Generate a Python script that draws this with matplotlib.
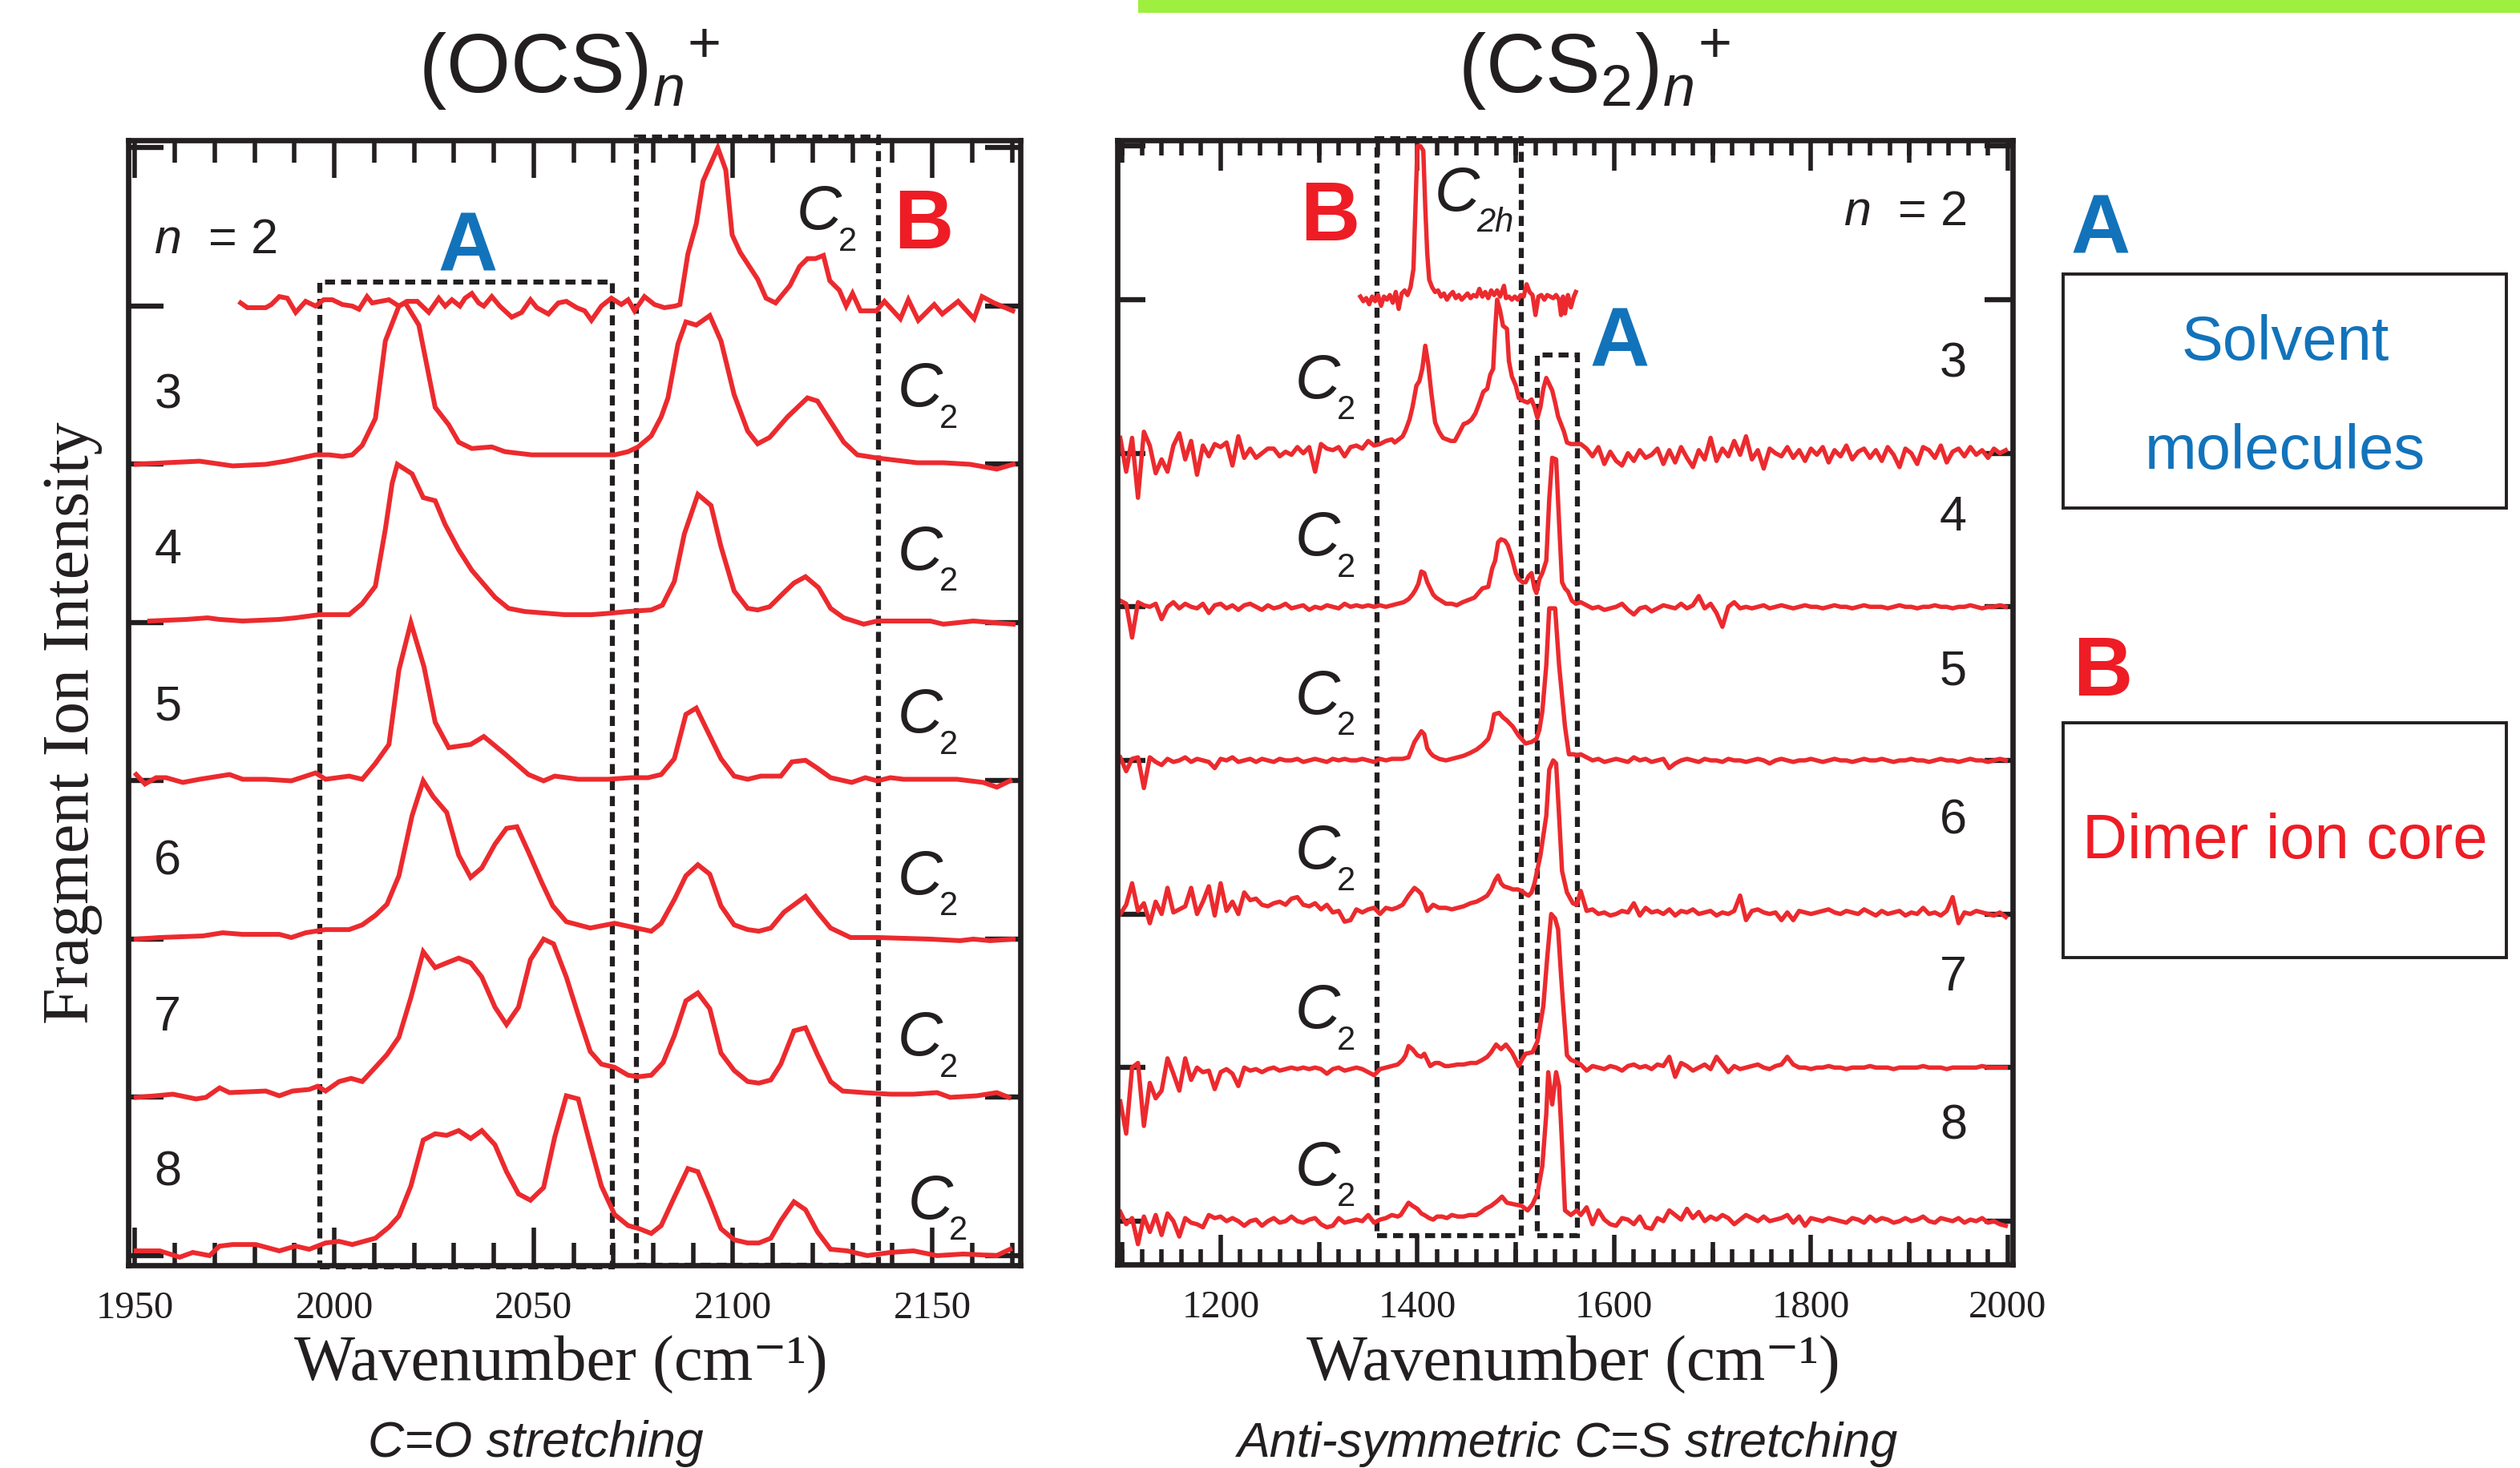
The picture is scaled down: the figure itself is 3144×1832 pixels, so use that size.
import numpy as np
import matplotlib
matplotlib.use("Agg")
import matplotlib.pyplot as plt
from matplotlib.ticker import MultipleLocator, FixedLocator, NullLocator
from matplotlib.patches import Rectangle

plt.rcParams['font.family'] = ['Liberation Sans', 'DejaVu Sans']
plt.rcParams['mathtext.fontset'] = 'custom'
plt.rcParams['mathtext.rm'] = 'Liberation Sans'
plt.rcParams['mathtext.it'] = 'Liberation Sans:italic'
plt.rcParams['mathtext.bf'] = 'Liberation Sans:bold'

# ---------------- data: (OCS)n+  (wavenumber, intensity above own baseline) ----------------
ocs_n2 = [(1976.5,0.02),(1978.2,-0.01),(1982.8,-0.01),(1984.2,0.01),(1986.2,0.06),(1988.2,0.05),(1990.3,-0.04),(1992.8,0.03),(1995.3,0.0),(1997.3,0.04),(1999.5,0.04),(2002.0,0.01),(2004.5,0.0),(2006.2,-0.02),(2008.2,0.06),(2009.5,0.02),(2013.7,0.04),(2016.2,0.0),(2018.2,0.03),(2020.8,0.03),(2023.7,-0.04),(2026.2,0.05),(2027.8,0.0),(2029.5,0.04),(2031.5,0.0),(2032.8,0.05),(2034.5,0.08),(2036.2,0.02),(2037.5,0.0),(2039.5,0.06),(2041.5,0.0),(2044.5,-0.07),(2047.0,-0.04),(2049.2,0.04),(2050.8,-0.01),(2053.7,-0.05),(2056.2,0.02),(2058.2,0.03),(2060.8,-0.01),(2062.8,-0.03),(2064.5,-0.09),(2067.0,0.0),(2069.5,0.05),(2072.0,0.01),(2073.7,0.04),(2075.3,-0.03),(2077.8,0.06),(2080.3,0.01),(2082.8,-0.01),(2085.5,0.0),(2086.7,0.01),(2088.7,0.33),(2090.8,0.52),(2092.5,0.79),(2096.2,1.0),(2098.2,0.86),(2099.8,0.45),(2101.8,0.34),(2106.2,0.17),(2108.3,0.05),(2110.7,0.02),(2114.3,0.13),(2116.7,0.25),(2118.7,0.3),(2120.7,0.3),(2122.7,0.32),(2124.3,0.16),(2126.7,0.1),(2128.4,0.0),(2130.0,0.08),(2132.0,-0.03),(2136.0,-0.03),(2138.0,0.03),(2142.0,-0.08),(2144.0,0.04),(2146.5,-0.09),(2150.5,0.01),(2152.5,-0.05),(2156.5,0.03),(2160.5,-0.08),(2162.5,0.06),(2165.5,0.02),(2170.2,-0.03)]
ocs_n3 = [(1950.3,0.0),(1957.8,0.01),(1966.2,0.02),(1974.5,-0.01),(1982.8,0.0),(1987.8,0.02),(1995.3,0.06),(1998.7,0.06),(2002.0,0.05),(2004.5,0.06),(2007.0,0.12),(2010.3,0.29),(2012.8,0.78),(2016.2,1.0),(2017.8,1.02),(2021.2,0.88),(2025.3,0.36),(2028.7,0.25),(2031.2,0.14),(2034.5,0.1),(2039.5,0.11),(2042.8,0.08),(2049.5,0.06),(2059.5,0.06),(2066.2,0.06),(2070.3,0.06),(2073.7,0.08),(2076.2,0.11),(2079.5,0.18),(2082.0,0.3),(2083.7,0.42),(2086.2,0.76),(2088.2,0.9),(2090.8,0.88),(2094.2,0.94),(2097.0,0.78),(2100.3,0.44),(2103.7,0.21),(2106.2,0.13),(2109.2,0.17),(2113.7,0.3),(2118.7,0.42),(2121.2,0.4),(2124.5,0.27),(2127.8,0.14),(2131.2,0.06),(2136.2,0.04),(2146.2,0.01),(2152.8,0.01),(2159.5,0.0),(2166.2,-0.03),(2170.3,0.0)]
ocs_n4 = [(1953.7,0.01),(1962.8,0.02),(1968.2,0.03),(1971.2,0.02),(1977.0,0.01),(1986.2,0.02),(1990.3,0.03),(1996.2,0.05),(2003.7,0.05),(2007.0,0.12),(2010.3,0.23),(2012.8,0.59),(2014.5,0.88),(2015.8,1.0),(2019.5,0.94),(2022.3,0.79),(2025.3,0.77),(2027.8,0.62),(2031.2,0.46),(2034.5,0.33),(2040.3,0.16),(2043.7,0.09),(2047.8,0.07),(2057.8,0.05),(2064.5,0.05),(2069.5,0.06),(2073.7,0.07),(2079.5,0.08),(2082.3,0.11),(2085.3,0.26),(2087.8,0.56),(2091.2,0.81),(2094.5,0.74),(2097.0,0.48),(2100.3,0.2),(2103.7,0.09),(2106.2,0.08),(2109.2,0.1),(2112.8,0.19),(2115.3,0.25),(2118.2,0.29),(2121.5,0.22),(2124.5,0.09),(2127.8,0.03),(2132.8,-0.01),(2136.2,0.01),(2149.5,0.01),(2152.8,-0.01),(2160.3,0.01),(2170.3,-0.01)]
ocs_n5 = [(1950.3,0.04),(1952.5,-0.02),(1955.3,0.02),(1957.8,0.02),(1962.0,-0.01),(1966.2,0.01),(1973.7,0.04),(1977.0,0.01),(1982.8,0.01),(1989.2,0.0),(1995.3,0.05),(1997.8,0.01),(2003.7,0.03),(2007.0,0.01),(2010.3,0.11),(2013.7,0.23),(2016.2,0.7),(2019.2,1.0),(2022.5,0.72),(2025.3,0.37),(2028.7,0.21),(2034.2,0.23),(2037.5,0.28),(2042.8,0.17),(2048.7,0.04),(2052.5,0.0),(2055.3,0.03),(2061.2,0.01),(2068.7,0.01),(2074.5,0.02),(2078.7,0.02),(2082.0,0.04),(2085.3,0.14),(2088.2,0.42),(2090.8,0.46),(2093.7,0.31),(2097.0,0.14),(2100.3,0.03),(2103.7,0.01),(2107.0,0.03),(2112.0,0.03),(2114.8,0.12),(2118.2,0.13),(2121.2,0.08),(2124.5,0.02),(2129.8,-0.01),(2133.2,0.02),(2136.2,0.0),(2139.5,0.02),(2142.8,0.01),(2156.2,0.01),(2162.8,-0.01),(2166.2,-0.04),(2169.5,0.0)]
ocs_n6 = [(1950.3,0.0),(1956.2,0.01),(1967.0,0.02),(1972.0,0.04),(1977.0,0.03),(1986.2,0.03),(1989.2,0.01),(1992.8,0.04),(1997.8,0.06),(2003.7,0.06),(2007.0,0.09),(2010.3,0.15),(2013.2,0.22),(2016.2,0.4),(2019.5,0.78),(2022.3,1.0),(2024.8,0.9),(2028.2,0.8),(2031.2,0.53),(2034.2,0.39),(2037.0,0.45),(2040.3,0.6),(2043.2,0.7),(2045.8,0.71),(2048.7,0.55),(2052.0,0.36),(2054.8,0.21),(2058.2,0.11),(2064.2,0.07),(2070.3,0.1),(2075.8,0.07),(2079.5,0.05),(2082.0,0.1),(2085.3,0.25),(2088.2,0.4),(2091.2,0.47),(2094.2,0.41),(2097.0,0.21),(2100.3,0.09),(2103.7,0.06),(2106.5,0.05),(2109.5,0.07),(2112.8,0.17),(2118.2,0.27),(2121.2,0.17),(2124.5,0.07),(2129.5,0.01),(2136.2,0.01),(2149.5,0.0),(2157.0,-0.01),(2160.3,0.0),(2164.5,-0.01),(2170.3,0.0)]
ocs_n7 = [(1950.3,0.0),(1955.3,0.01),(1959.5,0.02),(1965.3,-0.01),(1967.8,0.0),(1971.2,0.06),(1973.7,0.03),(1982.8,0.04),(1986.2,0.01),(1989.5,0.04),(1993.7,0.05),(1995.8,0.07),(1997.8,0.04),(2001.2,0.1),(2004.2,0.12),(2007.0,0.1),(2010.3,0.19),(2013.2,0.27),(2016.2,0.38),(2019.2,0.63),(2022.3,0.92),(2025.3,0.82),(2028.2,0.85),(2031.2,0.88),(2034.2,0.85),(2037.0,0.76),(2040.3,0.57),(2043.2,0.46),(2046.2,0.57),(2049.2,0.87),(2052.5,1.0),(2055.0,0.97),(2058.2,0.76),(2061.2,0.52),(2064.2,0.29),(2067.0,0.21),(2070.3,0.19),(2073.7,0.14),(2076.2,0.13),(2079.5,0.14),(2082.5,0.22),(2085.3,0.39),(2088.2,0.61),(2091.2,0.66),(2094.2,0.56),(2097.0,0.28),(2100.3,0.17),(2103.7,0.1),(2106.5,0.09),(2109.5,0.11),(2112.0,0.21),(2115.3,0.42),(2118.2,0.44),(2121.2,0.27),(2124.5,0.1),(2127.5,0.04),(2132.8,0.03),(2139.5,0.02),(2145.3,0.02),(2151.2,0.03),(2154.5,0.0),(2161.2,0.01),(2166.2,0.03),(2169.2,0.0)]
ocs_n8 = [(1950.3,0.03),(1956.2,0.03),(1961.2,-0.01),(1964.5,0.02),(1968.7,0.0),(1971.2,0.06),(1974.5,0.07),(1980.3,0.07),(1986.2,0.03),(1990.3,0.06),(1993.7,0.04),(1997.8,0.08),(2001.2,0.09),(2004.5,0.07),(2010.3,0.11),(2013.7,0.18),(2016.2,0.25),(2019.2,0.44),(2022.3,0.73),(2025.3,0.77),(2028.2,0.76),(2031.2,0.79),(2034.2,0.74),(2037.0,0.79),(2040.3,0.7),(2043.2,0.53),(2046.2,0.39),(2049.2,0.35),(2052.5,0.43),(2055.3,0.75),(2058.2,1.01),(2061.2,0.99),(2064.2,0.7),(2067.0,0.44),(2070.3,0.26),(2073.7,0.19),(2076.5,0.17),(2079.5,0.14),(2082.0,0.19),(2085.3,0.37),(2088.7,0.55),(2091.2,0.53),(2094.2,0.35),(2097.0,0.17),(2100.3,0.1),(2103.7,0.08),(2106.5,0.08),(2109.5,0.11),(2112.0,0.22),(2115.3,0.34),(2118.2,0.29),(2121.2,0.15),(2124.5,0.04),(2128.7,0.03),(2133.7,0.0),(2139.5,0.02),(2145.3,0.03),(2151.2,0.0),(2157.8,0.01),(2166.2,0.0),(2167.8,0.02),(2169.5,0.04)]

# ---------------- data: (CS2)n+ ----------------
# baseline noise sampled every CS2_STEP cm-1 (values in hundredths), peak regions as explicit points
CS2_LEFT_START = 1098
CS2_RIGHT_START = 1566
CS2_STEP = 6

cs2_n2 = [(1342,0.02),(1345,-0.01),(1348,0.01),(1351,-0.03),(1354,0.02),(1357,-0.01),(1360,0.03),(1363,-0.04),(1366,0.02),(1369,0.0),(1372,0.03),(1375,-0.02),(1378,0.05),(1381,-0.06),(1384,0.04),(1387,0.06),(1390,0.03),(1393,0.08),(1396,0.2),(1398,0.6),(1400,1.0),(1403,1.0),(1406,0.97),(1408,0.6),(1410,0.3),(1412,0.13),(1415,0.08),(1418,0.05),(1421,0.06),(1424,0.02),(1427,0.04),(1430,0.0),(1433,0.03),(1436,0.05),(1439,0.01),(1442,0.03),(1445,0.0),(1448,0.02),(1451,0.04),(1454,0.01),(1457,0.03),(1460,0.02),(1463,0.07),(1466,0.02),(1469,0.05),(1472,0.01),(1475,0.06),(1478,0.03),(1481,0.06),(1484,0.02),(1488,0.09),(1490,0.01),(1493,0.02),(1496,0.0),(1499,0.02),(1502,0.0),(1505,0.03),(1508,0.02),(1511,0.1),(1514,0.05),(1517,0.03),(1520,-0.1),(1523,0.02),(1526,0.03),(1529,0.0),(1532,0.03),(1535,0.02),(1538,0.01),(1541,0.03),(1544,0.0),(1546,-0.1),(1548,0.02),(1550,-0.09),(1553,0.03),(1556,-0.05),(1559,0.02),(1561,0.05)]

cs2_n3_left = [10,-12,10,-29,14,5,-13,-4,-12,5, 13,-4,8,-14,5,-2,6,4,7,-8, 11,-3,3,-3,0,3,3,-2,1,-1, 4,0,4,-12,6,3,2,4,-2,4, 5,3,8,5,6,8,9]
cs2_n3_peak = [(1377,0.07),(1381,0.09),(1385,0.11),(1388,0.15),(1392,0.22),(1395,0.3),(1399,0.44),(1402,0.47),(1405,0.55),(1408,0.7),(1411,0.58),(1414,0.4),(1418,0.2),(1422,0.14),(1426,0.1),(1430,0.09),(1434,0.08),(1438,0.08),(1443,0.14),(1447,0.19),(1451,0.2),(1455,0.22),(1459,0.26),(1462,0.31),(1467,0.4),(1471,0.42),(1474,0.51),(1477,0.55),(1479,0.8),(1481,1.0),(1484,0.93),(1487,0.83),(1491,0.81),(1493,0.6),(1496,0.5),(1500,0.44),(1503,0.36),(1508,0.34),(1512,0.33),(1516,0.35),(1519,0.3),(1522,0.23),(1525,0.3),(1528,0.42),(1531,0.49),(1534,0.45),(1537,0.41),(1540,0.33),(1543,0.24),(1546,0.19),(1549,0.14),(1552,0.07),(1556,0.06),(1560,0.06)]
cs2_n3_right = [6,3,-2,4,-7,1,-5,-8,0,-5, 2,-3,-1,3,-7,2,-6,4,-3,-9, 2,-4,10,-5,3,-2,8,-1,11,-4, 2,-10,3,0,-2,4,-3,2,-5,3, -1,4,-6,2,-2,5,-4,1,3,-3, 2,-5,4,-1,-9,3,0,-7,4,2, -3,5,-6,1,3,-2,4,-1,2,-3, 3,0,2]

cs2_n4_left = [4,2,-20,3,1,0,2,-8,0,3, -1,2,0,-1,2,-4,1,2,-1,1, -2,1,2,0,-2,1,-1,0,2,-1, 0,1,-2,0,-1,1,0,-1,2,0, 1,0,1,0,1,0,1]
cs2_n4_peak = [(1380,0.02),(1386,0.03),(1391,0.05),(1395,0.08),(1398,0.11),(1401,0.15),(1404,0.23),(1407,0.22),(1410,0.16),(1413,0.12),(1416,0.08),(1419,0.06),(1424,0.04),(1429,0.02),(1435,0.02),(1440,0.01),(1446,0.03),(1450,0.04),(1454,0.05),(1458,0.06),(1462,0.09),(1466,0.12),(1472,0.13),(1476,0.25),(1479,0.3),(1482,0.42),(1485,0.44),(1489,0.43),(1492,0.4),(1496,0.32),(1500,0.22),(1503,0.18),(1507,0.16),(1510,0.16),(1513,0.2),(1516,0.22),(1519,0.12),(1521,0.09),(1524,0.18),(1527,0.22),(1531,0.3),(1534,0.7),(1537,0.97),(1541,0.96),(1544,0.55),(1547,0.16),(1550,0.12),(1553,0.1),(1557,0.04),(1561,0.02)]
cs2_n4_right = [3,1,-1,0,-2,-1,0,2,-2,-5, -1,0,-3,-1,1,0,-1,2,-1,1, 7,-1,2,-4,-13,0,3,-1,0,-1, 0,1,-1,0,1,0,-1,0,1,0, 0,-1,0,1,0,0,-1,0,1,0, 0,0,-1,0,1,0,0,-1,0,0, 1,0,0,-1,0,0,1,0,-1,0, 0,1,0]

cs2_n5_left = [2,-7,1,2,-18,2,-1,-3,1,-1, 0,2,-1,1,0,-1,-5,1,0,2, -1,0,1,-1,1,0,-1,1,0,0, 1,-1,0,1,0,-1,1,0,1,0, 0,1,0,-1,1,0,1]
cs2_n5_peak = [(1385,0.01),(1391,0.02),(1394,0.07),(1397,0.12),(1401,0.16),(1404,0.19),(1407,0.17),(1410,0.08),(1413,0.05),(1416,0.03),(1422,0.01),(1429,0.0),(1435,0.01),(1441,0.02),(1447,0.03),(1454,0.05),(1460,0.07),(1466,0.1),(1472,0.14),(1475,0.2),(1478,0.3),(1483,0.31),(1487,0.28),(1491,0.26),(1497,0.22),(1503,0.16),(1510,0.11),(1516,0.12),(1521,0.14),(1524,0.2),(1527,0.32),(1531,0.62),(1534,0.99),(1540,0.99),(1544,0.62),(1550,0.22),(1554,0.04),(1559,0.04),(1562,0.03)]
cs2_n5_right = [4,2,0,1,-1,0,1,0,-1,2, 0,1,-1,0,1,-5,-2,0,1,0, -1,1,0,0,-1,1,0,0,-1,0, 1,0,-2,0,1,0,-1,0,0,1, 0,-1,0,1,0,0,-1,0,1,0, 0,1,0,-1,0,0,1,0,0,-1, 0,1,0,0,-1,0,1,0,0,-1, 0,1,0]

cs2_n6_left = [0,6,20,2,7,-6,8,0,17,1, 3,5,17,0,8,18,-1,20,2,8, 0,14,9,10,6,5,7,8,6,10, 11,6,5,7,3,6,1,2,-5,-4, 3,1,3,4,0,4,3]
cs2_n6_peak = [(1379,0.04),(1385,0.06),(1391,0.12),(1397,0.17),(1401,0.15),(1404,0.13),(1410,0.02),(1416,0.06),(1422,0.04),(1429,0.04),(1435,0.03),(1441,0.04),(1447,0.05),(1454,0.07),(1460,0.08),(1466,0.1),(1471,0.12),(1475,0.16),(1479,0.22),(1482,0.25),(1485,0.2),(1488,0.18),(1493,0.17),(1497,0.16),(1502,0.16),(1506,0.15),(1510,0.13),(1513,0.12),(1516,0.14),(1519,0.2),(1525,0.38),(1531,0.64),(1534,0.94),(1538,1.0),(1541,0.98),(1544,0.64),(1547,0.28),(1552,0.14),(1558,0.07),(1562,0.06)]
cs2_n6_right = [15,2,3,0,1,-1,0,2,1,7, -1,4,1,2,0,3,-1,2,1,3, 0,1,2,-1,1,0,2,12,-4,2, 3,1,0,1,-4,1,-4,2,1,0, 1,2,3,1,0,2,1,0,3,1, -1,2,0,1,2,-1,1,0,4,0, 1,-1,2,11,-6,1,0,2,1,0, -1,1,-2]

cs2_n7_left = [-22,-43,0,3,-38,-10,-20,-15,6,-4, -15,6,-8,0,-3,-2,-14,-3,-1,-4, -12,0,-2,-1,-3,-1,0,-2,-1,0, -1,0,-1,0,-1,-4,-1,0,-2,-1, 0,-1,-3,-5,-1,0,1]
cs2_n7_peak = [(1380,0.02),(1385,0.05),(1388,0.08),(1391,0.14),(1395,0.12),(1400,0.08),(1404,0.07),(1407,0.09),(1413,0.01),(1418,0.03),(1422,0.03),(1428,0.01),(1432,0.01),(1441,0.02),(1447,0.02),(1454,0.03),(1460,0.03),(1466,0.05),(1471,0.07),(1475,0.1),(1480,0.15),(1485,0.12),(1490,0.15),(1496,0.1),(1500,0.05),(1503,0.01),(1507,0.06),(1510,0.09),(1517,0.1),(1522,0.17),(1528,0.4),(1532,0.72),(1536,1.0),(1540,0.97),(1543,0.9),(1546,0.6),(1548,0.42),(1552,0.08),(1556,0.05),(1560,0.04)]
cs2_n7_right = [2,-2,1,0,-1,1,0,-2,1,2, 0,1,-1,2,1,7,-6,3,1,-2, 0,2,-1,7,2,-3,1,-1,0,1, 2,0,-1,1,2,7,2,0,0,-1, 0,0,1,0,0,-1,0,0,0,1, 0,0,0,-1,0,0,0,0,1,0, 0,0,-1,0,0,0,0,0,1,0, 0,0,0]

cs2_n8_left = [6,-2,2,-15,3,-7,4,-9,5,0, -10,2,-1,-2,-4,4,2,3,0,2, 0,-3,0,1,-3,0,2,-1,0,3, 0,-1,1,2,-2,-4,-3,2,-1,0, 1,0,4,-1,1,2,4]
cs2_n8_peak = [(1380,0.03),(1383,0.04),(1386,0.07),(1391,0.12),(1395,0.1),(1400,0.08),(1404,0.05),(1407,0.04),(1412,0.02),(1416,0.01),(1420,0.03),(1425,0.03),(1430,0.02),(1435,0.04),(1441,0.03),(1447,0.03),(1453,0.04),(1460,0.04),(1465,0.06),(1469,0.08),(1475,0.1),(1481,0.13),(1486,0.16),(1491,0.12),(1498,0.11),(1506,0.1),(1512,0.07),(1517,0.11),(1522,0.18),(1527,0.36),(1531,0.7),(1533,0.97),(1537,0.76),(1541,0.97),(1544,0.88),(1547,0.5),(1550,0.07),(1556,0.04),(1562,0.07)]
cs2_n8_right = [4,9,-2,7,1,-2,-3,2,1,-2, 3,-4,-5,2,0,7,4,1,8,2, 6,0,3,1,4,2,-2,1,4,2, 0,3,0,1,2,4,-1,3,-3,2, 1,0,2,1,0,-1,2,1,-1,3, 0,2,1,-1,0,2,0,1,3,0, -1,2,1,0,2,-1,1,0,2,-1, 0,-2,-3]

cluster_sizes = [2, 3, 4, 5, 6, 7, 8]
n_labels = ['$\\mathit{n}$  = 2', '3', '4', '5', '6', '7', '8']

# annotation boxes: (wn_low, wn_high, y_low, y_high)
ocs_box_A = (1996.3, 2069.8, -0.07, 6.15)
ocs_box_B = (2075.8, 2136.5, -0.06, 7.07)
cs2_box_B = (1358.8, 1505.5, -0.094, 7.05)
cs2_box_A = (1521.7, 1562.3, -0.094, 5.64)

# ---------------- style ----------------
RED = '#EC2A2E'
TXT_RED = '#EE1C25'
BLUE = '#1273BB'
BLACK = '#231F20'
SERIF = ['Liberation Serif', 'DejaVu Serif']
SANS = ['Liberation Sans', 'DejaVu Sans']

W, H = 3144, 1833
fig = plt.figure(figsize=(W / 100, H / 100), dpi=100)
fig.patch.set_facecolor('white')


def fx(px):
    return px / W


def fy(py):
    return 1 - py / H


ax1 = fig.add_axes([fx(160), fy(1580), fx(1273 - 160), (1580 - 176) / H])
ax2 = fig.add_axes([fx(1394), fy(1579), fx(2511 - 1394), (1579 - 176) / H])


def style_axes(ax, xlim, ylim, major, minor, maj_len, min_len, ylen):
    ax.set_xlim(*xlim)
    ax.set_ylim(*ylim)
    for s in ax.spines.values():
        s.set_linewidth(4.8)
        s.set_color(BLACK)
    ax.xaxis.set_major_locator(MultipleLocator(major))
    ax.xaxis.set_minor_locator(MultipleLocator(minor))
    ax.tick_params(axis='x', which='both', direction='in', top=True, bottom=True,
                   width=4.0, color=BLACK, labelsize=35, pad=22,
                   labelcolor=BLACK, labelfontfamily='Liberation Serif')
    ax.tick_params(axis='x', which='major', length=maj_len)
    ax.tick_params(axis='x', which='minor', length=min_len)
    ax.yaxis.set_major_locator(FixedLocator(range(8)))
    ax.yaxis.set_minor_locator(NullLocator())
    ax.tick_params(axis='y', which='major', direction='in', left=True, right=True,
                   length=ylen, width=4.6, color=BLACK, labelleft=False)


style_axes(ax1, (1948.3, 2172.1), (-0.061, 7.048), 50, 10, 34, 20, 32)
style_axes(ax2, (1095, 2005), (-0.282, 7.038), 200, 20, 27, 14, 25)

# medium (every 100 cm-1) ticks on the CS2 panel
for loc in ('bottom', 'top'):
    sec = ax2.secondary_xaxis(loc)
    sec.xaxis.set_major_locator(FixedLocator([1100, 1300, 1500, 1700, 1900]))
    sec.xaxis.set_minor_locator(NullLocator())
    sec.tick_params(axis='x', direction='in', length=20, width=4.0, color=BLACK,
                    labelbottom=False, labeltop=False)
    for s in sec.spines.values():
        s.set_visible(False)

# ---------------- traces ----------------
ocs_traces = [ocs_n2, ocs_n3, ocs_n4, ocs_n5, ocs_n6, ocs_n7, ocs_n8]
for n, tr in zip(cluster_sizes, ocs_traces):
    x, y = np.array(tr).T
    ax1.plot(x, y + (8 - n), color=RED, lw=4.3, solid_joinstyle='miter', zorder=2)


def cs2_trace(left_vals, peak, right_vals):
    xl = CS2_LEFT_START + CS2_STEP * np.arange(len(left_vals))
    yl = np.array(left_vals) / 100.0
    xp, yp = np.array(peak).T
    xr = CS2_RIGHT_START + CS2_STEP * np.arange(len(right_vals))
    yr = np.array(right_vals) / 100.0
    kl = xl < xp[0]
    kr = xr > xp[-1]
    return (np.concatenate([xl[kl], xp, xr[kr]]),
            np.concatenate([yl[kl], yp, yr[kr]]))


cs2_sets = [
    (cs2_n3_left, cs2_n3_peak, cs2_n3_right),
    (cs2_n4_left, cs2_n4_peak, cs2_n4_right),
    (cs2_n5_left, cs2_n5_peak, cs2_n5_right),
    (cs2_n6_left, cs2_n6_peak, cs2_n6_right),
    (cs2_n7_left, cs2_n7_peak, cs2_n7_right),
    (cs2_n8_left, cs2_n8_peak, cs2_n8_right),
]
x2, y2 = np.array(cs2_n2).T
ax2.plot(x2, y2 + 6, color=RED, lw=3.9, zorder=2)
for n, (l, p, r) in zip(cluster_sizes[1:], cs2_sets):
    x, y = cs2_trace(l, p, r)
    ax2.plot(x, y + (8 - n), color=RED, lw=3.9, zorder=2)

# ---------------- dashed boxes ----------------
for ax, box in ((ax1, ocs_box_A), (ax1, ocs_box_B), (ax2, cs2_box_B), (ax2, cs2_box_A)):
    x0, x1, y0, y1 = box
    ax.add_patch(Rectangle((x0, y0), x1 - x0, y1 - y0, fill=False, ec=BLACK,
                           lw=4.5, ls=(0, (2.0, 1.2)), clip_on=False, zorder=1.8))


# ---------------- labels inside panels ----------------
def c_label(ax, x, y, sub='2'):
    ax.text(x, y, 'C', fontsize=56, style='italic', color=BLACK, family=SANS,
            ha='left', va='baseline')
    ax.annotate(sub, xy=(x, y), xytext=(37.5, -19), textcoords='offset points',
                fontsize=30, color=BLACK, family=SANS, ha='left', va='baseline',
                style='italic' if sub != '2' else 'normal')


ocs_n_offsets = [0.34, 0.36, 0.38, 0.39, 0.41, 0.43, 0.45]
for n, lab, off in zip(cluster_sizes, n_labels, ocs_n_offsets):
    ax1.text(1954.8, (8 - n) + off, lab, fontsize=44, color=BLACK, family=SANS,
             ha='left', va='baseline')

cs2_n_offsets = [0.49, 0.50, 0.50, 0.50, 0.53, 0.51, 0.54]
for n, lab, off in zip(cluster_sizes, n_labels, cs2_n_offsets):
    ax2.text(1958.5, (8 - n) + off, lab, fontsize=44, color=BLACK, family=SANS,
             ha='right', va='baseline')

ocs_c_offsets = [0.37, 0.34, 0.31, 0.29, 0.27, 0.24]
ocs_c_x = [2141.2, 2141.2, 2141.2, 2141.2, 2141.2, 2143.8]
c_label(ax1, 2115.9, 6.49)
for n, xx, off in zip(cluster_sizes[1:], ocs_c_x, ocs_c_offsets):
    c_label(ax1, xx, (8 - n) + off)

cs2_c_offsets = [0.365, 0.34, 0.31, 0.30, 0.26, 0.24]
for n, off in zip(cluster_sizes[1:], cs2_c_offsets):
    c_label(ax2, 1275.8, (8 - n) + off)
c_label(ax2, 1417.4, 6.585, sub='2h')

BIG = dict(fontsize=74, fontweight='bold', family=SANS, ha='center', va='baseline')
ax1.text(2033.4, 6.228, 'A', color=BLUE, **BIG)
ax1.text(2147.9, 6.37, 'B', color=TXT_RED, **BIG)
ax2.text(1310.8, 6.39, 'B', color=TXT_RED, **BIG)
ax2.text(1605.7, 5.572, 'A', color=BLUE, **BIG)

# ---------------- titles / axis labels ----------------
fig.text(fx(522), fy(116), r'$\mathrm{(OCS)}_{\mathit{n}}{}^{+}$', fontsize=74,
         color=BLACK, ha='left', va='baseline')
fig.text(fx(1819), fy(116), r'$\mathrm{(CS}_{2}\mathrm{)}_{\mathit{n}}{}^{+}$', fontsize=74,
         color=BLACK, ha='left', va='baseline')

fig.text(fx(90), 0.508, 'Fragment Ion Intensity', rotation=90, fontsize=59,
         family=SERIF, color=BLACK, ha='center', va='center')
for cx in (700, 1963):
    fig.text(fx(cx), fy(1723), 'Wavenumber (cm\u207b\u00b9)', fontsize=58,
             family=SERIF, color=BLACK, ha='center', va='baseline')
fig.text(fx(668), fy(1818), 'C=O stretching', fontsize=45, style='italic',
         family=SANS, color=BLACK, ha='center', va='baseline')
fig.text(fx(1955), fy(1818), 'Anti-symmetric C=S stretching', fontsize=44,
         style='italic', family=SANS, color=BLACK, ha='center', va='baseline')

# ---------------- legend boxes ----------------
fig.text(fx(2621), fy(315), 'A', color=BLUE, fontsize=74, fontweight='bold',
         family=SANS, ha='center', va='baseline')
fig.text(fx(2623), fy(868), 'B', color=TXT_RED, fontsize=74, fontweight='bold',
         family=SANS, ha='center', va='baseline')
for top, bot in ((343, 635), (903, 1196)):
    fig.add_artist(Rectangle((fx(2574), fy(bot)), fx(3127 - 2574), (bot - top) / H,
                             transform=fig.transFigure, fill=False, ec=BLACK, lw=2.8))
fig.text(fx(2851), fy(449), 'Solvent', color=BLUE, fontsize=56, family=SANS,
         ha='center', va='baseline')
fig.text(fx(2851), fy(585), 'molecules', color=BLUE, fontsize=56, family=SANS,
         ha='center', va='baseline')
fig.text(fx(2851), fy(1071), 'Dimer ion core', color=TXT_RED, fontsize=56,
         family=SANS, ha='center', va='baseline')

# green bar at the top edge
fig.add_artist(Rectangle((fx(1420), fy(17)), 1 - fx(1420), 17 / H,
                         transform=fig.transFigure, fc='#9EEF3F', ec='none'))

fig.savefig('out.png', dpi=100)
